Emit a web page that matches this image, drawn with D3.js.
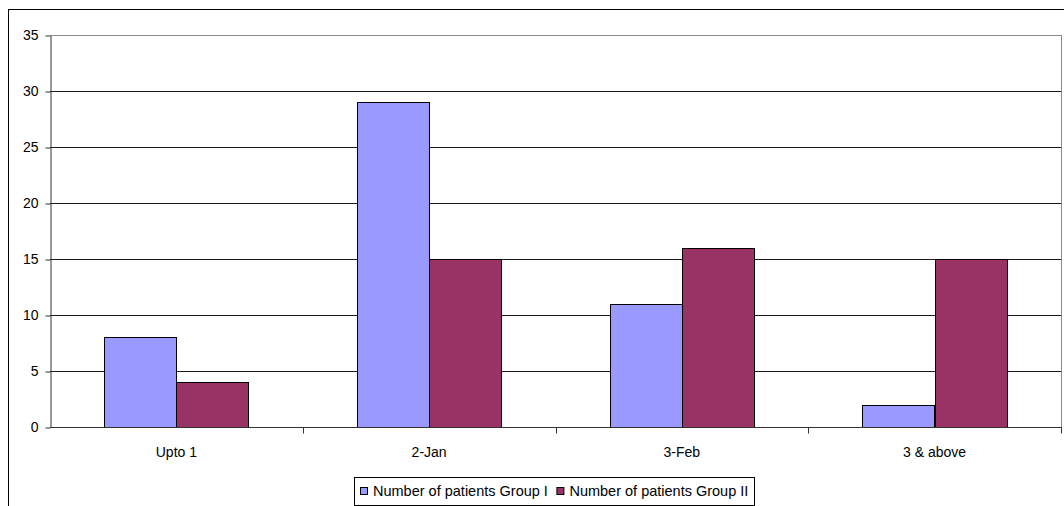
<!DOCTYPE html>
<html>
<head>
<meta charset="utf-8">
<script src="https://cdn.jsdelivr.net/npm/d3@7"></script>
<style>
  html, body { margin: 0; padding: 0; background: #fff; }
  svg { display: block; font-family: Arial, "Liberation Sans", sans-serif; }
</style>
</head>
<body>
<svg id="chart" width="1064" height="506"></svg>
<script>
// Chart data
const categories = ["Upto 1", "2-Jan", "3-Feb", "3 & above"];
const seriesNames = ["Number of patients Group I", "Number of patients Group II"];
const groupI = [8, 29, 11, 2];
const groupII = [4, 15, 16, 15];
const yTicks = [0, 5, 10, 15, 20, 25, 30, 35];
const colors = ["#9999FF", "#993366"];

const svg = d3.select("#chart");

// Outer chart frame (extends past the right and bottom edges)
svg.append("rect")
  .attr("x", 8.5).attr("y", 9.5)
  .attr("width", 1100).attr("height", 520)
  .attr("fill", "#fff").attr("stroke", "#000").attr("stroke-width", 1);

const plot = { left: 50, right: 1061, top: 35, bottom: 427 };

const x = d3.scaleBand()
  .domain(categories)
  .range([plot.left, plot.right])
  .paddingInner(0).paddingOuter(0);

const barW = x.bandwidth() / 3.5;
const gapOffset = barW * 0.75;

const y = d3.scaleLinear().domain([0, 35]).range([plot.bottom, plot.top]);

// Gridlines
svg.append("g")
  .selectAll("line")
  .data(yTicks.filter(d => d > 0))
  .join("line")
  .attr("x1", plot.left).attr("x2", plot.right)
  .attr("y1", d => Math.round(y(d)) + 0.5).attr("y2", d => Math.round(y(d)) + 0.5)
  .attr("stroke", d => d === 35 ? "#8a8a8a" : "#1a1a1a")
  .attr("stroke-width", 1);

// Right border of the plot area
svg.append("line")
  .attr("x1", plot.right + 0.5).attr("x2", plot.right + 0.5)
  .attr("y1", plot.top).attr("y2", plot.bottom)
  .attr("stroke", "#8a8a8a");

// Bars
const rows = categories.map((c, i) => ({ cat: c, vals: [groupI[i], groupII[i]] }));
const groups = svg.append("g").selectAll("g")
  .data(rows)
  .join("g");

groups.selectAll("rect")
  .data(d => d.vals.map((v, k) => ({ cat: d.cat, v, k })))
  .join("rect")
  .attr("x", d => Math.round(x(d.cat) + gapOffset + d.k * barW) + 0.5)
  .attr("width", d => Math.round(barW))
  .attr("y", d => Math.round(y(d.v)) + 0.5)
  .attr("height", d => Math.round(y(0)) - Math.round(y(d.v)))
  .attr("fill", d => colors[d.k])
  .attr("stroke", "#000").attr("stroke-width", 1);

// Y axis
const yAxis = d3.axisLeft(y).tickValues(yTicks).tickSize(5).tickPadding(7).tickSizeOuter(0);
const yg = svg.append("g")
  .attr("transform", `translate(${plot.left + 0.5},0.5)`)
  .call(yAxis);
yg.select(".domain").attr("stroke", "#333");
yg.selectAll(".tick line").attr("stroke", "#333");
yg.selectAll(".tick text")
  .attr("fill", "#000").style("font-size", "14px")
  .style("font-family", "Arial, 'Liberation Sans', sans-serif");

// X axis with ticks at category boundaries
const xg = svg.append("g")
  .attr("transform", `translate(0,${plot.bottom + 0.5})`);
xg.append("line")
  .attr("x1", plot.left).attr("x2", plot.right + 1)
  .attr("stroke", "#333");
xg.selectAll("line.b")
  .data(categories.slice(1).concat([null]))
  .join("line")
  .attr("class", "b")
  .attr("x1", (d, i) => Math.round(plot.left + (i + 1) * x.bandwidth()) + 0.5)
  .attr("x2", (d, i) => Math.round(plot.left + (i + 1) * x.bandwidth()) + 0.5)
  .attr("y1", 0).attr("y2", 6)
  .attr("stroke", "#333");
xg.selectAll("text")
  .data(categories)
  .join("text")
  .attr("x", d => x(d) + x.bandwidth() / 2)
  .attr("y", 29)
  .attr("text-anchor", "middle")
  .style("font-size", "14px")
  .attr("fill", "#000")
  .text(d => d);

// Legend
const legend = svg.append("g");
const legendY = 491;
const items = legend.selectAll("g")
  .data(seriesNames)
  .join("g");
items.append("rect")
  .attr("width", 7).attr("height", 7)
  .attr("y", legendY - 3.5)
  .attr("fill", (d, i) => colors[i])
  .attr("stroke", "#000");
items.append("text")
  .attr("x", 12.5)
  .attr("y", legendY + 5)
  .style("font-size", "14.5px")
  .attr("fill", "#000")
  .text(d => d);

let cursor = 360.5;
items.each(function() {
  const g = d3.select(this);
  g.attr("transform", `translate(${cursor},0)`);
  const w = g.select("text").node().getComputedTextLength();
  cursor += 12.5 + w + 9;
});
legend.insert("rect", ":first-child")
  .attr("x", 354.5).attr("y", 477.5)
  .attr("width", Math.round(cursor - 9 + 6 - 354)).attr("height", 28)
  .attr("fill", "#fff").attr("stroke", "#000");
</script>
</body>
</html>
